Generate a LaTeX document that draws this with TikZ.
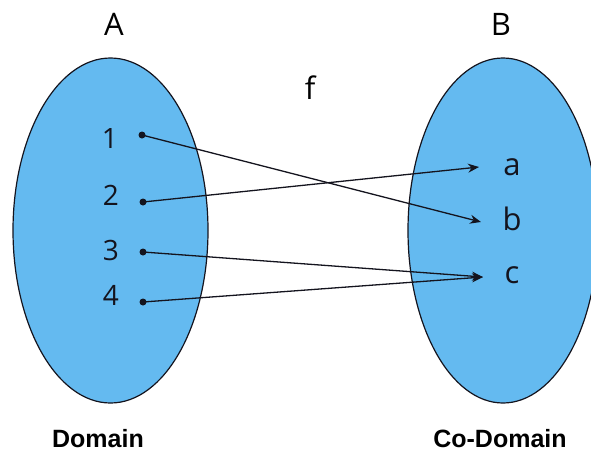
\documentclass[tikz,border=0pt]{standalone}
\usepackage{fontspec}
\setmainfont{Open Sans}
\newfontfamily\arialbold[BoldFont={* Bold}]{Liberation Sans}
\usetikzlibrary{arrows.meta}
\definecolor{setblue}{RGB}{100,186,240}
\definecolor{ink}{RGB}{20,20,30}
\tikzset{
  setshape/.style={fill=setblue, draw=ink, line width=1.2pt},
  elem/.style={anchor=base, inner sep=0pt, font=\fontsize{28}{30}\selectfont, text=ink},
  letter/.style={anchor=base, inner sep=0pt, font=\fontsize{31}{33}\selectfont, text=ink},
  title/.style={anchor=base, inner sep=0pt, font=\fontsize{31}{33}\selectfont},
  caption/.style={anchor=base, inner sep=0pt, font=\arialbold\bfseries\fontsize{25}{27}\selectfont},
  dotpt/.style={circle, fill=ink, inner sep=0pt, minimum size=7pt},
  maparrow/.style={draw=ink, line width=1.3pt, -{Stealth[length=11pt,width=9pt]}}
}
\begin{document}
\begin{tikzpicture}[x=1pt,y=-1pt]
\useasboundingbox (0,0) rectangle (591,453);
\begin{scope}
\clip (0,0) rectangle (591,453);
\draw[setshape] (110.5,230.5) ellipse [x radius=97.5, y radius=172.5];
\draw[setshape] (503,230.5) ellipse [x radius=95, y radius=172.5];
\end{scope}
\node[title] (A) at (114,35) {A};
\node[title] (B) at (501,35) {B};
\node[title] (f) at (310,99) {f};
\node[elem] (n1) at (110,148) {1};
\node[elem] (n2) at (111,205) {2};
\node[elem] (n3) at (111,260) {3};
\node[elem] (n4) at (111,305) {4};
\node[dotpt] (d1) at (142,135) {};
\node[dotpt] (d2) at (143,202) {};
\node[dotpt] (d3) at (143,252) {};
\node[dotpt] (d4) at (143,302) {};
\node[letter] (la) at (512,175) {a};
\node[letter] (lb) at (512,230) {b};
\node[letter] (lc) at (512,283) {c};
\coordinate (ta) at (479,167);
\coordinate (tb) at (481,222);
\coordinate (tc) at (483,277);
\draw[maparrow] (d1.center) -- (tb);
\draw[maparrow] (d2.center) -- (ta);
\draw[maparrow] (d3.center) -- (tc);
\draw[maparrow] (d4.center) -- (tc);
\node[caption] (dom) at (98,447) {Domain};
\node[caption] (cod) at (500,447) {Co-Domain};
\end{tikzpicture}
\end{document}
